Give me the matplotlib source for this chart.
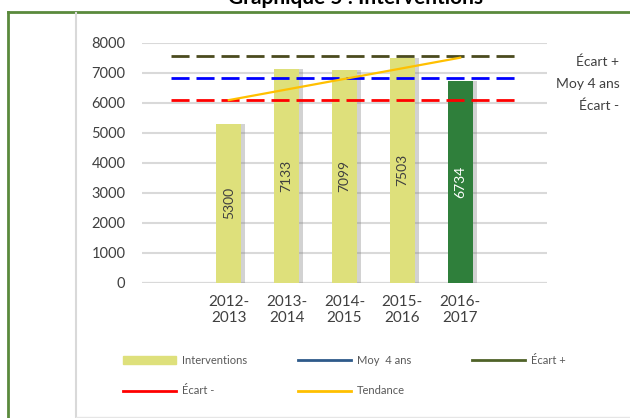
import numpy as np
import matplotlib
matplotlib.use("Agg")
import matplotlib.pyplot as plt
from matplotlib.lines import Line2D
from matplotlib.patches import Patch

plt.rcParams['font.family'] = ['Lato', 'DejaVu Sans']

# data
years = ['2012-\n2013', '2013-\n2014', '2014-\n2015', '2015-\n2016', '2016-\n2017']
interventions = [5300, 7133, 7099, 7503, 6734]
ecart_plus = 7550
moy_4ans = 6810
ecart_moins = 6080
tendance_x = [0, 4]
tendance = [6085, 7500]

bar_colors = ['#DEE07B'] * 4 + ['#2F7F3B']
label_colors = ['#404040'] * 4 + ['white']

W, H = 630, 418
fig = plt.figure(figsize=(W / 100, H / 100), dpi=100)

# axes placed in pixel units of the reference
ax_l, ax_r, ax_t, ax_b = 142, 547, 42.7, 282.5
ax = fig.add_axes([ax_l / W, 1 - ax_b / H, (ax_r - ax_l) / W, (ax_b - ax_t) / H])

x = np.arange(len(years))
# soft shadow on the right of each bar
ax.bar(x + 0.07, interventions, width=0.43, color='#7f7f7f', alpha=0.35, zorder=2)
bars = ax.bar(x, interventions, width=0.43, color=bar_colors, zorder=3)
for b, v, c in zip(bars, interventions, label_colors):
    ax.text(b.get_x() + b.get_width() / 2, v / 2, str(v), rotation=90,
            ha='center', va='center', fontsize=10, color=c, zorder=5)

dash = (6.5, 2.5)
xs = [-1, len(years)]
ax.plot(xs, [ecart_plus] * 2, color='#4B4B1E', lw=2, dashes=dash, zorder=4)
ax.plot(xs, [moy_4ans] * 2, color='#0000FF', lw=2, dashes=dash, zorder=4)
ax.plot(xs, [ecart_moins] * 2, color='#FF0000', lw=2, dashes=dash, zorder=4)
ax.plot(tendance_x, tendance, color='#FFC000', lw=1.6, zorder=4)

# labels at the end of the reference lines
for txt, v in [('Écart +', ecart_plus), ('Moy 4 ans', moy_4ans), ('Écart -', ecart_moins)]:
    ax.text(6.75, v - 190, txt, ha='right', va='center', fontsize=10,
            color='#404040', clip_on=False)

ax.set_xlim(-1.5, 5.5)
ax.set_ylim(0, 8000)
ax.set_yticks(np.arange(0, 8001, 1000))
ax.set_xticks(x)
ax.set_xticklabels(years, fontsize=11, color='#404040')
ax.tick_params(axis='y', labelsize=10.5, labelcolor='#404040', length=0, pad=12)
ax.tick_params(axis='x', length=0, pad=9)
ax.grid(axis='y', color='#D9D9D9', lw=1.5, zorder=0)
for s in ax.spines.values():
    s.set_visible(False)
ax.axhline(0, color='#D0D0D0', lw=1.5, zorder=1)

# legend, three columns placed like the reference
leg_kw = dict(frameon=False, fontsize=8, labelcolor='#595959', loc='upper left',
              handlelength=4.8, handletextpad=0.5, borderpad=0, borderaxespad=0,
              labelspacing=1.75)
col1 = [Patch(color='#DEE07B'), Line2D([], [], color='#FF0000', lw=2)]
col2 = [Line2D([], [], color='#2E5A8A', lw=2), Line2D([], [], color='#FFC000', lw=2)]
col3 = [Line2D([], [], color='#4F6228', lw=2)]
top = 1 - 355 / H
fig.legend(col1, ['Interventions', 'Écart -'], bbox_to_anchor=(123 / W, top), **leg_kw)
fig.legend(col2, ['Moy  4 ans', 'Tendance'], bbox_to_anchor=(298 / W, top), **leg_kw)
fig.legend(col3, ['Écart +'], bbox_to_anchor=(472 / W, top), **leg_kw)

# frames around the chart
def px_line(x0, y0, x1, y1, **kw):
    fig.add_artist(Line2D([x0 / W, x1 / W], [1 - y0 / H, 1 - y1 / H],
                          transform=fig.transFigure, **kw))

px_line(7.5, 11.5, W, 11.5, color='#5A8A3C', lw=2)
px_line(7.5, 11.5, 7.5, H, color='#5A8A3C', lw=2)
px_line(75.5, 12.5, 75.5, H, color='#D9D9D9', lw=1.5)
px_line(76, 416.5, W, 416.5, color='#E6E6E6', lw=1)

# title sits partly above the top edge, as in the reference
fig.text(355 / W, 1 - 4.5 / H, 'Graphique 5 : Interventions', ha='center',
         va='baseline', fontsize=15, fontweight='bold', color='black')

fig.savefig('out.png', dpi=100)
